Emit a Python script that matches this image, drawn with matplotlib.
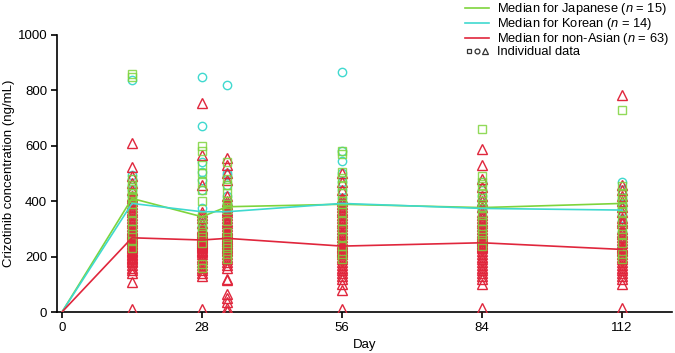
import matplotlib
matplotlib.use('Agg')
import matplotlib.pyplot as plt
from matplotlib.lines import Line2D
from matplotlib.legend_handler import HandlerTuple

plt.rcParams['font.family'] = ['Liberation Sans', 'DejaVu Sans']
plt.rcParams['mathtext.fontset'] = 'custom'
plt.rcParams['mathtext.it'] = 'Liberation Sans:italic'
plt.rcParams['mathtext.rm'] = 'Liberation Sans'

# median lines
median_days = [0, 14, 28, 33, 56, 84, 112]
median_jp = [0, 410, 344, 380, 389, 377, 392]
median_kr = [0, 392, 362, 362, 392, 374, 368]
median_na = [0, 268, 260, 266, 238, 250, 226]

# individual samples
sample_days = [14, 28, 33, 56, 84, 112]

jp_conc = [
    [858, 848, 480, 460, 445, 430, 420, 410, 390, 360, 330, 300, 280, 255, 230],
    [600, 580, 530, 500, 470, 440, 400, 345, 330, 310, 290, 270, 250, 175, 160],
    [540, 480, 460, 430, 400, 390, 380, 370, 330, 290, 270, 250, 230, 210, 190],
    [580, 570, 505, 485, 460, 430, 400, 390, 360, 330, 300, 270, 240, 210, 190],
    [660, 490, 470, 455, 430, 410, 390, 375, 350, 330, 300, 280, 260, 240],
    [728, 455, 430, 410, 395, 380, 360, 330, 300, 280, 250, 210, 190],
]
kr_conc = [
    [838, 495, 480, 460, 440, 420, 400, 385, 370, 350, 330, 310, 290, 270],
    [848, 670, 540, 505, 475, 440, 375, 350, 330, 310, 300, 280, 260, 240],
    [820, 500, 495, 460, 420, 390, 370, 355, 340, 320, 300, 280, 260, 240],
    [865, 580, 545, 500, 470, 440, 410, 395, 390, 370, 350, 330, 300, 280],
    [470, 440, 420, 400, 385, 375, 370, 360, 340, 320, 300, 280],
    [470, 440, 410, 390, 375, 365, 350, 330, 310, 290, 270, 240],
]
na_conc = [
    [610, 525, 490, 465, 440, 420, 410, 400, 390, 380, 370, 360, 350, 340, 330,
     320, 310, 300, 295, 290, 285, 280, 275, 270, 268, 265, 260, 255, 250, 245,
     240, 235, 230, 225, 220, 215, 210, 205, 200, 195, 190, 185, 180, 170, 160,
     150, 140, 110, 10],
    [755, 565, 460, 360, 350, 340, 320, 305, 300, 295, 290, 285, 280, 278, 275,
     272, 270, 268, 265, 262, 260, 258, 255, 252, 250, 248, 245, 242, 240, 235,
     230, 225, 220, 215, 210, 200, 190, 180, 170, 160, 150, 140, 130, 10],
    [555, 530, 500, 475, 420, 400, 390, 380, 370, 360, 350, 340, 330, 320, 310,
     300, 295, 290, 285, 280, 275, 270, 265, 262, 258, 255, 250, 245, 240, 235,
     230, 225, 220, 210, 200, 190, 180, 170, 160, 120, 115, 65, 50, 35, 15, 5],
    [500, 470, 440, 410, 400, 390, 380, 370, 360, 350, 340, 330, 320, 310, 300,
     290, 280, 270, 260, 250, 245, 240, 235, 230, 225, 220, 215, 210, 200, 190,
     180, 170, 160, 150, 140, 130, 120, 100, 80, 10],
    [590, 530, 480, 450, 420, 400, 380, 360, 350, 340, 330, 320, 310, 300, 290,
     280, 275, 270, 265, 260, 255, 250, 245, 240, 235, 230, 220, 210, 200, 190,
     180, 170, 160, 150, 140, 130, 120, 100, 15],
    [785, 460, 440, 420, 400, 380, 360, 340, 330, 320, 300, 290, 280, 270, 260,
     250, 240, 235, 230, 225, 220, 210, 200, 190, 180, 170, 160, 150, 140, 130,
     120, 100, 15],
]

green = '#7ed43c'
cyan = '#3fd9cf'
red = '#e0263c'

fig = plt.figure(figsize=(6.75, 3.53), dpi=100)
ax = fig.add_axes([0.0844, 0.116, 0.9112, 0.785])

for day, vals in zip(sample_days, kr_conc):
    ax.plot([day] * len(vals), vals, 'o', ms=6, mfc='none', mec=cyan, mew=1.0, zorder=2)
for day, vals in zip(sample_days, na_conc):
    ax.plot([day] * len(vals), vals, '^', ms=7, mfc='none', mec=red, mew=1.0, zorder=3)
for day, vals in zip(sample_days, jp_conc):
    ax.plot([day] * len(vals), vals, 's', ms=5.5, mfc='none', mec=green, mew=1.0,
            alpha=0.85, zorder=4)

l_jp, = ax.plot(median_days, median_jp, color=green, lw=1.2, zorder=5)
l_kr, = ax.plot(median_days, median_kr, color=cyan, lw=1.2, zorder=5)
l_na, = ax.plot(median_days, median_na, color=red, lw=1.2, zorder=5)

ax.set_xlim(-1, 122)
ax.set_ylim(0, 1000)
ax.set_xticks([0, 28, 56, 84, 112])
ax.set_yticks([0, 200, 400, 600, 800, 1000])
ax.spines['top'].set_visible(False)
ax.spines['right'].set_visible(False)
ax.spines['left'].set_linewidth(1.2)
ax.spines['bottom'].set_linewidth(1.2)
ax.tick_params(labelsize=9.5, length=4, width=1.2, direction='out', pad=3)
ax.set_xlabel('Day', fontsize=9.5, labelpad=4)
ax.set_ylabel('Crizotinib concentration (ng/mL)', fontsize=9.5, labelpad=2)

mk_kw = dict(ls='none', mfc='none', mec='#333333', mew=0.9)
ind_handle = (Line2D([], [], marker='s', ms=3.5, **mk_kw),
              Line2D([], [], marker='o', ms=3.5, **mk_kw),
              Line2D([], [], marker='^', ms=4, **mk_kw))

fig.legend([l_jp, l_kr, l_na, ind_handle],
           ['Median for Japanese ($n$ = 15)', 'Median for Korean ($n$ = 14)',
            'Median for non-Asian ($n$ = 63)', 'Individual data'],
           handler_map={tuple: HandlerTuple(ndivide=None, pad=0)},
           loc='upper left', bbox_to_anchor=(0.675, 1.022), frameon=False,
           fontsize=9.3, handlelength=1.9, handletextpad=0.6, labelspacing=-0.08,
           borderpad=0.2)

fig.savefig('out.png', dpi=100)
